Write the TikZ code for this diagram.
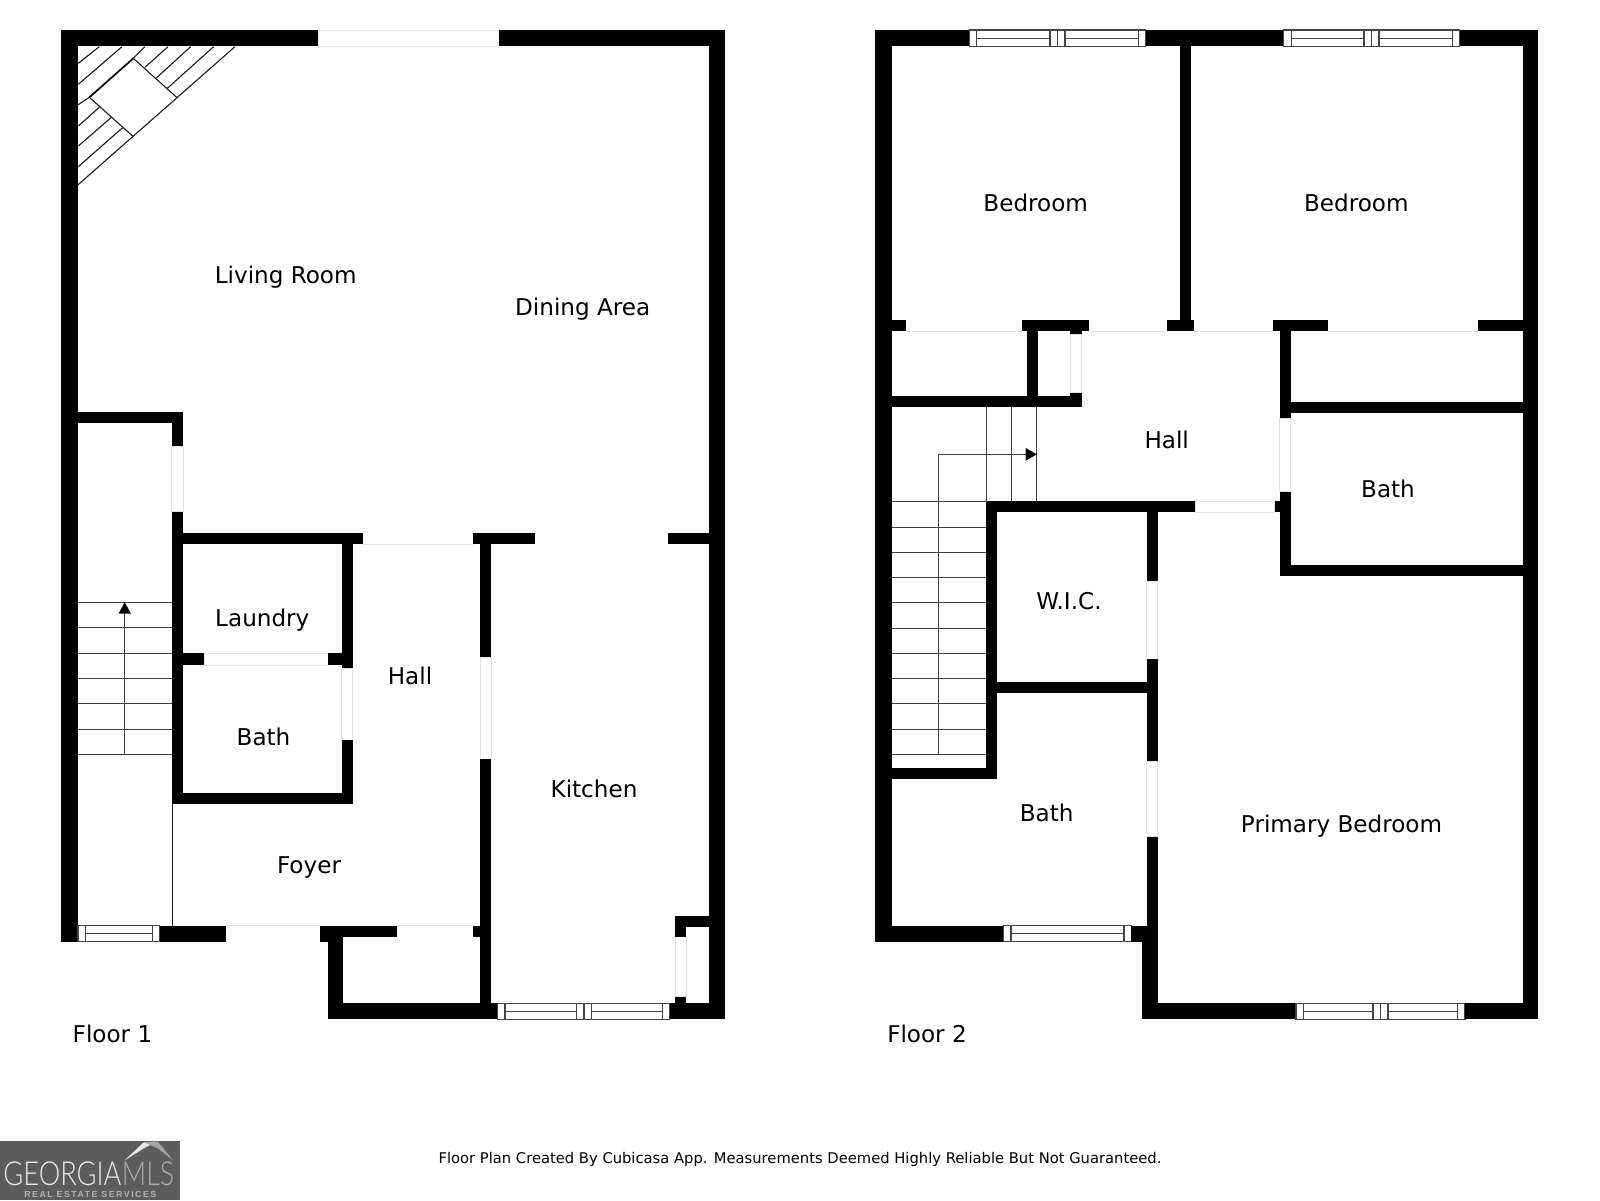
\documentclass[tikz,border=0pt]{standalone}
\usepackage{fontspec}
\setmainfont{DejaVu Sans}
\newfontfamily\logofont{Lato Light}
\newfontfamily\logobold[LetterSpace=17]{Liberation Sans Bold}
\definecolor{doorline}{HTML}{E2E2E2}
\definecolor{winline}{HTML}{444444}
\definecolor{logobg}{HTML}{5C5C5C}
\tikzset{
  wall/.style={fill=black},
  door/.style={fill=white,draw=doorline,line width=0.9pt},
  fine/.style={draw=black!90,line width=1.1pt},
  stairline/.style={draw=black!75,line width=1pt},
  winframe/.style={draw=winline,line width=1.1pt,fill=white},
  roomlabel/.style={font=\fontsize{23.1}{27}\selectfont,inner sep=0pt,text=black,text height=17pt,text depth=0pt},
  footlabel/.style={font=\fontsize{14.74}{17}\selectfont,inner sep=0pt,text=black,text height=11pt,text depth=0pt},
}
% window horizontal: x0,x1,ytop,ybot,inset
\newcommand{\winH}[5]{%
  \draw[winframe] (#1,#3) rectangle (#2,#4);
  \draw[winframe] ({#1+#5},#3) -- ({#1+#5},#4) ({#2-#5},#3) -- ({#2-#5},#4);
  \draw[winframe] ({#1+#5},{(#3+#4)/2}) -- ({#2-#5},{(#3+#4)/2});
}
\newcommand{\winD}[6]{%
  % double window: x0,x1,ytop,ybot,inset,centre
  \draw[winframe] (#1,#3) rectangle (#2,#4);
  \draw[winframe] ({#1+#5},#3) -- ({#1+#5},#4) ({#2-#5},#3) -- ({#2-#5},#4);
  \draw[winframe] ({#6-7.5},#3) -- ({#6-7.5},#4) (#6,#3) -- (#6,#4) ({#6+7.5},#3) -- ({#6+7.5},#4);
  \draw[winframe] ({#1+#5},{(#3+#4)/2}) -- ({#6-7.5},{(#3+#4)/2}) ({#6+7.5},{(#3+#4)/2}) -- ({#2-#5},{(#3+#4)/2});
}
\begin{document}
\begin{tikzpicture}[x=1pt,y=-1pt]
\useasboundingbox (0,0) rectangle (1600,1200);
\fill[white] (0,0) rectangle (1600,1200);

% ---------- FLOOR 1 ----------
% fireplace
\begin{scope}[x=0.3333pt,y=-0.3333pt,shift={(150,60)}]
\draw[fine] (85,130)--(148,80) (85,193)--(216,80);
\draw[fine] (85,254)--(118,232) (250,115)--(285,80);
\draw[draw=black,line width=1.7pt] (118,232)--(250,115);
\draw[fine] (85,318)--(148,262) (285,142)--(354,80);
\draw[fine] (85,378)--(183,293) (318,175)--(422,80);
\draw[fine] (85,440)--(218,323) (352,205)--(491,80);
\draw[fine] (80,498)--(555,80);
\draw[fine] (118,232)--(250,350) (250,115)--(380,232);
\end{scope}

% outer walls
\fill[wall] (61.3,30) rectangle (318.7,46.3);
\draw[door] (318.7,30) rectangle (499,46.3);
\fill[wall] (499,30) rectangle (725,46.3);
\fill[wall] (61.3,30) rectangle (78,941.7);
\fill[wall] (709,30) rectangle (725,1019.3);

% stair enclosure
\fill[wall] (61.3,411.7) rectangle (183.3,423.3);
\fill[wall] (171.7,411.7) rectangle (183.3,446.7);
\draw[door] (171.7,446.7) rectangle (183.3,511.7);
\fill[wall] (171.7,511.7) rectangle (183.3,804);

% laundry / bath block
\fill[wall] (171.7,533.3) rectangle (362.7,544.3);
\fill[wall] (341.7,533.3) rectangle (352.7,668.3);
\draw[door] (341.7,668.3) rectangle (352.7,740);
\fill[wall] (341.7,740) rectangle (352.7,804);
\fill[wall] (183,653.3) rectangle (204,665);
\draw[door] (204,653.3) rectangle (328.3,665);
\fill[wall] (328.3,653.3) rectangle (341.7,665);
\fill[wall] (171.7,793.3) rectangle (352.7,804);
\draw[draw=doorline,line width=0.9pt] (362.7,544.3) -- (472.7,544.3);

% hall right wall
\fill[wall] (472.7,533.3) rectangle (535,544.3);
\fill[wall] (480,533.3) rectangle (491,657.7);
\draw[door] (480,657.7) rectangle (491,759.3);
\fill[wall] (480,759.3) rectangle (491,1019.3);
\fill[wall] (668,533.3) rectangle (709,544.3);

% entry
\fill[wall] (159.4,925.7) rectangle (226,941.7);
\draw[draw=doorline,line width=0.9pt] (226,925.7) -- (320,925.7);
\fill[wall] (320,925.7) rectangle (397,936.7);
\fill[wall] (320,925.7) rectangle (343.3,941.7);
\fill[wall] (327.7,925.7) rectangle (343.3,1019.3);
\draw[draw=doorline,line width=0.9pt] (397,925.7) -- (473,925.7);
\fill[wall] (473,925.7) rectangle (480,936.7);
\fill[wall] (327.7,1003.3) rectangle (497.8,1019.3);
\draw[fine] (172.3,804) -- (172.3,925.7);

% windows
\winH{78}{159.4}{925.7}{941.7}{7.2}
\winD{497.8}{669.6}{1003.3}{1019.3}{7.2}{584}

% kitchen nook
\fill[wall] (669.6,1003.3) rectangle (725,1019.3);
\fill[wall] (675,996) rectangle (686,1003.3);
\draw[door] (675,936.7) rectangle (686,996);
\fill[wall] (675,916) rectangle (686,936.7);
\fill[wall] (675,916) rectangle (709,927.3);

% stairs 1
\foreach \yy in {602.3,627.7,653,678.3,703.7,729,754.3}
  \draw[stairline] (78,\yy) -- (171.7,\yy);
\coordinate (a1s) at (124.7,754.3);
\coordinate (a1e) at (124.7,605);
\draw[stairline] (a1s) -- (a1e);
\fill[black] (124.7,602.3) -- (131,613.5) -- (118.6,613.5) -- cycle;

% ---------- FLOOR 2 ----------
\fill[wall] (875.3,30) rectangle (969.3,46.3);
\winD{969.3}{1145.7}{30}{46.3}{7.4}{1057.5}
\fill[wall] (1145.7,30) rectangle (1283.7,46.3);
\winD{1283.7}{1459.5}{30}{46.3}{7.4}{1371.5}
\fill[wall] (1459.5,30) rectangle (1538.3,46.3);
\fill[wall] (875.3,30) rectangle (891.7,941.7);
\fill[wall] (1522.7,30) rectangle (1538.3,1019.3);
\fill[wall] (1180,46) rectangle (1191,331.3);
\fill[wall] (1166.7,320) rectangle (1194.3,331.3);

% row of closets
\fill[wall] (891.7,320) rectangle (905.7,331.3);
\draw[draw=doorline,line width=0.9pt] (905.7,331.3) -- (1022,331.3);
\fill[wall] (1022,320) rectangle (1088.7,331.3);
\fill[wall] (1027.3,331) rectangle (1038.3,395.7);
\fill[wall] (1070.3,331) rectangle (1081.7,334.3);
\draw[door] (1070.3,334.3) rectangle (1081.7,392.7);
\fill[wall] (1070.3,392.7) rectangle (1081.7,407);
\fill[wall] (891.7,395.7) rectangle (1081.7,407);
\draw[draw=doorline,line width=0.9pt] (1088.7,331.3) -- (1166.7,331.3);
\draw[draw=doorline,line width=0.9pt] (1194.3,331.3) -- (1272.7,331.3);
\fill[wall] (1272.7,320) rectangle (1328.3,331.3);
\draw[draw=doorline,line width=0.9pt] (1328.3,331.3) -- (1478,331.3);
\fill[wall] (1478,320) rectangle (1522.7,331.3);

% upper bath
\fill[wall] (1279.7,331) rectangle (1290.7,418.3);
\draw[door] (1279.7,418.3) rectangle (1290.7,491.7);
\fill[wall] (1279.7,491.7) rectangle (1290.7,576);
\fill[wall] (1279.7,401.7) rectangle (1522.7,413.3);
\fill[wall] (1279.7,564.7) rectangle (1522.7,576);
\fill[wall] (1274.7,501) rectangle (1279.7,512.3);

% hall lower wall
\fill[wall] (986,501) rectangle (1195.7,512.3);
\draw[door] (1195.7,501) rectangle (1274.7,512.3);

% stair side and WIC
\fill[wall] (986,501) rectangle (997,779);
\fill[wall] (891.7,767.7) rectangle (997,779);
\fill[wall] (997,681.7) rectangle (1146.7,693.3);
\fill[wall] (1146.7,501) rectangle (1157.7,581.7);
\draw[door] (1146.7,581.7) rectangle (1157.7,659.3);
\fill[wall] (1146.7,659.3) rectangle (1157.7,761.7);
\draw[door] (1146.7,761.7) rectangle (1157.7,836.7);
\fill[wall] (1146.7,836.7) rectangle (1157.7,941.7);
\fill[wall] (1141.7,925.7) rectangle (1157.7,1019.3);

% bottoms
\fill[wall] (891.7,925.7) rectangle (1003.7,941.7);
\winH{1003.7}{1131.3}{925.7}{941.7}{7.3}
\fill[wall] (1131.3,925.7) rectangle (1146.7,941.7);
\fill[wall] (1141.7,1003.3) rectangle (1296,1019.3);
\winD{1296}{1465}{1003.3}{1019.3}{7.2}{1380.5}
\fill[wall] (1465,1003.3) rectangle (1538.3,1019.3);

% stairs 2
\foreach \yy in {501.7,527,552.3,577.3,602.7,628,653,678.3,703.7,729,754}
  \draw[stairline] (891.7,\yy) -- (986,\yy);
\foreach \xx in {986,1011.3,1036.7}
  \draw[stairline] (\xx,407) -- (\xx,501.7);
\coordinate (a2s) at (938.7,754);
\coordinate (a2c) at (938.7,454);
\coordinate (a2e) at (1030,454);
\draw[stairline] (a2s) -- (a2c) -- (a2e);
\fill[black] (1036.7,454.3) -- (1025.7,448) -- (1025.7,460.7) -- cycle;

% ---------- LABELS ----------
\node[roomlabel] (l1) at (285.7,274.5) {Living Room};
\node[roomlabel] (l2) at (582.7,307.3) {Dining Area};
\node[roomlabel] (l3) at (262.3,618.3) {Laundry};
\node[roomlabel] (l4) at (410,675.5) {Hall};
\node[roomlabel] (l5) at (263.5,736.7) {Bath};
\node[roomlabel] (l6) at (594,789) {Kitchen};
\node[roomlabel] (l7) at (309,864.5) {Foyer};
\node[roomlabel] (l8) at (112.5,1034) {Floor 1};
\node[roomlabel] (l9) at (927,1034) {Floor 2};
\node[roomlabel] (l10) at (1035.7,203.3) {Bedroom};
\node[roomlabel] (l11) at (1356.3,203.3) {Bedroom};
\node[roomlabel] (l12) at (1166.7,440) {Hall};
\node[roomlabel] (l13) at (1388,489) {Bath};
\node[roomlabel] (l14) at (1069,601) {W.I.C.};
\node[roomlabel] (l15) at (1046.7,812.8) {Bath};
\node[roomlabel] (l16) at (1341.5,823.5) {Primary Bedroom};
\node[footlabel] (foot) at (800,1158.3) {Floor Plan Created By Cubicasa App. Measurements Deemed Highly Reliable But Not Guaranteed.};

% ---------- LOGO ----------
\fill[logobg] (0,1140.5) rectangle (179.5,1200);
\fill[white!90!black] (124.5,1160.5) -- (143.5,1142.5) -- (157,1142) -- (146,1147) -- cycle;
\fill[white!65!black] (144,1142.2) -- (157.5,1141.5) -- (173,1160) -- (158,1148.5) -- cycle;
\node[font=\logofont\fontsize{33}{36}\selectfont,text=white!92!black,inner sep=0pt,anchor=base east] (lg1) at (121.7,1185.7) {\resizebox{118pt}{23.7pt}{GEORGIA}};
\node[font=\logofont\fontsize{33}{36}\selectfont,text=white!68!black,inner sep=0pt,anchor=base west] (lg2) at (121.7,1185.7) {\resizebox{52.3pt}{23.7pt}{MLS}};
\node[font=\logobold\fontsize{8.8}{10}\selectfont,text=white!70!black,inner sep=0pt] (lg3) at (90.3,1194.3) {REAL ESTATE SERVICES};
\end{tikzpicture}
\end{document}
